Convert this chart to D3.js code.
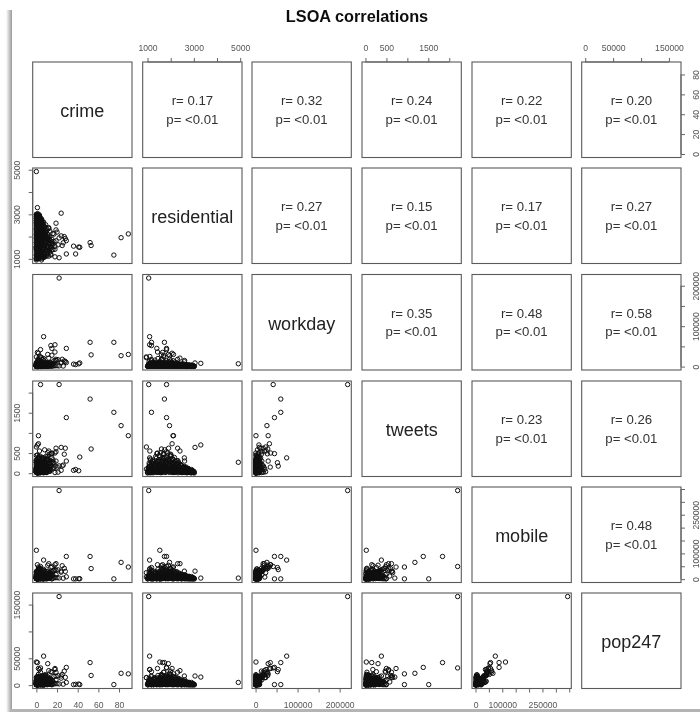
<!DOCTYPE html>
<html>
<head>
<meta charset="utf-8">
<script src="https://cdn.jsdelivr.net/npm/d3@7"></script>
<style>
html,body{margin:0;padding:0;background:#fff;overflow:hidden}
text{font-family:"Liberation Sans",Arial,sans-serif}
</style>
</head>
<body>
<svg id="c" width="700" height="712"></svg>
<script>
const chartTitle = "LSOA correlations";
const names = ["crime","residential","workday","tweets","mobile","pop247"];

// one value per LSOA: dense cluster first, the stand-out points last
const crime = [
2,5,0,7,3,1,6,9,4,0, 8,2,5,11,1,7,3,10,0,6, 4,12,2,9,6,0,13,3,8,1, 11,5,0,14,7,2,10,4,16,1,
6,12,3,9,0,15,5,11,2,8, 13,1,7,4,10,0,6,12,3,9, 2,8,5,0,11,4,7,1,9,3, 6,0,8,3,10,1,5,7,2,4,
0,6,3,8,1,5,2,7,4,0, 3,5,1,6,2,4,0,5,3,1, 2,4,0,3,1,5,2,0,3,1, 0,2,1,3,0,2,1,0,2,1,
0,1,3,5,2,8,4,12,1,6, 0,2,7,3,10,1,5,14,2,9, 0,4,1,8,13,2,6,3,11,0, 1,5,9,2,16,3,7,0,12,4,
1,6,3,14,0,10,2,18,5,8, 0,4,11,2,7,21,1,15,3,9, 2,6,0,13,4,26,8,1,17,3, 0,5,10,2,19,7,1,12,4,28,
3,0,9,15,1,6,22,2,11,5, 0,7,3,13,1,24,4,9,2,17, 1,5,0,11,3,8,16,2,6,20, 0,4,9,1,13,3,6,0,10,2,
1,7,0,3,12,5,2,8,0,4, 0,3,6,1,9,2,5,0,7,1, 2,0,4,1,6,0,3,5,1,2, 0,3,1,0,4,2,0,1,3,0,
22,4,52,75,29,82,89,2,53,7,0,42,36,41,38,29,24,1,0,19,0,14,18,1,18,11,3,2,5,6,15,27,19,12,25,15];
const residential = [
1005,1022,1039,1056,1073,1090,1107,1124,1141,1158, 1175,1192,1209,1226,1243,1260,1277,1294,1311,1328,
1345,1362,1379,1396,1413,1430,1447,1464,1481,1498, 1515,1532,1549,1566,1583,1600,1617,1634,1651,1668,
1685,1702,1719,1736,1753,1770,1787,1804,1821,1838, 1855,1872,1889,1906,1923,1940,1957,1974,1991,2008,
2025,2042,2059,2076,2093,2110,2127,2144,2161,2178, 2195,2212,2229,2246,2263,2280,2297,2314,2331,2348,
2365,2382,2399,2416,2433,2450,2467,2484,2501,2518, 2535,2552,2569,2586,2603,2620,2637,2654,2671,2688,
2705,2722,2739,2756,2773,2790,2807,2824,2841,2858, 2875,2892,2909,2926,2943,2960,2977,2994,3008,3020,
1000,1020,1040,1060,1070,1090,1100,1120,1140,1160, 1010,1050,1080,1110,1130,1170,1190,1210,1230,1250,
1180,1220,1260,1280,1300,1320,1340,1360,1380,1400, 1270,1310,1350,1390,1410,1430,1450,1470,1490,1510,
1420,1440,1460,1480,1500,1520,1540,1560,1580,1600, 1530,1550,1570,1590,1610,1630,1650,1670,1690,1710,
1620,1640,1660,1680,1700,1720,1740,1760,1780,1800, 1730,1750,1770,1790,1810,1830,1850,1870,1890,1910,
1820,1840,1860,1880,1900,1920,1940,1960,1980,2000, 1930,1950,1970,1990,2010,2030,2050,2070,2090,2110,
2020,2040,2060,2080,2100,2120,2140,2160,2180,2200, 2130,2170,2210,2230,2250,2270,2290,2310,2340,2370,
2220,2260,2300,2330,2360,2390,2420,2450,2480,2510, 2400,2440,2470,2500,2530,2560,2590,2620,2650,2680,
2540,2580,2610,2640,2670,2700,2730,2760,2790,2820, 2720,2750,2780,2810,2840,2870,2900,2930,2960,3000,
1050,1820,1730,1170,1820,1950,2120,2100,1600,1090,1530,1520,1570,1530,1220,1220,3050,3300,4920,2600,950,1170,1090,1650,1430,1900,1100,2060,950,2590,1700,2000,2300,2400,1600,1400];
const workday = [
400,2100,5200,900,3300,7000,1500,4400,600,2700, 6200,1200,3800,8200,500,2400,5600,1800,9000,3100,
700,4600,1400,7600,2900,5000,1000,8800,3500,2000, 6600,800,4100,2300,10000,1600,5400,3000,7200,1100,
4800,2500,8400,600,3700,6000,1900,9400,2800,1300, 5200,3400,700,7800,2100,4500,1200,6800,3200,800,
5800,1700,3900,9000,2600,500,4700,1500,7000,3000, 900,5500,2200,3800,700,6400,1400,4200,2700,600,
3600,1800,5000,900,2900,4400,1300,6000,2000,500, 3100,1000,4000,600,2300,3400,800,5000,1600,400,
2600,700,3500,1100,1900,400,2900,900,2200,600, 1600,400,2400,800,1300,500,2000,600,1100,300,
800,2500,6000,1500,12000,3000,9000,1200,4500,18000, 600,3500,1800,7500,2200,14000,900,5000,2800,10500,
1500,4000,800,8500,2300,16000,3200,6500,1000,5500, 2000,11000,3800,700,6200,2600,20000,1400,7800,3300,
1100,4800,2400,9500,600,3600,13000,1900,6800,2900, 3100,700,8200,4200,1600,17000,2700,5800,1200,10000,
900,3900,2100,7000,24000,1300,4600,11500,2500,6000, 1800,5200,800,3400,15000,2200,8800,1500,4100,12500,
1000,6600,2900,600,9200,3700,1700,19000,5000,2300, 3000,1200,7400,4400,2000,10800,800,5600,3500,14500,
1400,6200,2600,900,8000,3200,1800,4700,11200,2100, 700,3800,5400,1600,9800,2400,1100,6800,3000,4300,
1900,800,4900,2700,7200,1300,3600,600,5800,2200, 1000,3100,600,4600,1700,6400,2500,800,3900,1400,
2000,700,3400,1200,5200,900,2800,1500,4200,600, 1100,2400,500,3200,800,1700,4000,600,2100,1000,
219000,42000,60000,60000,45000,27000,30000,1000,29000,74000,1000,9000,6000,7000,5000,10000,9000,8000,7000,15000,24000,52000,54000,35000,36000,30000,25000,33000,22000,12000,28000,14000,18000,21000,18000,45000];
const tweets = [
5,60,130,25,90,170,40,110,15,70, 200,35,140,85,10,230,55,160,100,30, 250,75,180,20,120,280,45,210,95,65, 150,300,35,190,80,260,15,130,330,60,
220,100,370,45,170,290,25,140,400,70, 240,110,350,30,190,310,85,150,430,55, 270,120,35,210,340,70,160,20,290,95, 180,40,240,115,310,60,200,10,145,260,
80,170,30,220,105,50,190,15,130,75, 160,45,110,20,140,65,95,30,120,10, 85,40,105,20,65,90,30,50,75,15, 35,60,10,45,25,55,15,30,40,5,
20,80,150,40,250,100,10,320,60,180, 30,120,210,70,350,15,160,90,280,50, 60,240,25,130,300,85,190,45,370,110, 35,170,410,75,260,20,140,330,95,50,
110,30,290,160,440,65,220,15,350,125, 40,190,510,90,270,25,150,380,70,230, 55,320,120,470,35,200,580,85,260,140, 75,400,20,230,530,105,300,50,170,620,
45,270,130,500,60,350,180,25,420,95, 115,30,310,165,450,70,240,20,360,135, 40,200,85,330,15,260,120,390,55,150, 70,25,180,290,50,230,100,310,35,140,
20,120,250,60,170,30,210,80,130,45, 30,100,190,15,140,60,165,40,110,75, 50,130,20,90,150,35,80,115,25,60, 15,60,105,30,75,10,90,40,55,20,
2200,2200,1840,1510,1380,1180,930,930,600,380,20,400,70,60,90,300,640,700,270,300,650,260,175,150,500,300,550,730,100,380,480,470,620,550,180,485];
const mobile = [
1000,5000,12000,2500,8000,16000,3500,10000,1500,6500, 19000,3000,13000,7500,1200,22000,4500,15000,9000,2000,
24000,6000,17000,1800,11000,27000,3800,20000,8500,5000, 14000,29000,2800,18000,7000,25000,1300,12000,32000,5500,
21000,9500,35000,3800,16000,28000,2200,13000,38000,6500, 23000,10000,33000,2600,18000,30000,7800,14000,40000,4800,
26000,11000,3000,20000,31000,6200,15000,1700,27000,8800, 17000,3400,22000,10500,29000,5200,19000,1000,13500,24000,
7200,16000,2600,21000,9500,4400,18000,1300,12000,6800, 15000,3900,10000,1800,13000,5800,8600,2600,11000,900,
8000,3500,9500,1700,6000,8400,2700,4600,7000,1300, 3200,5600,900,4100,2300,5000,1400,2800,3700,600,
2000,6000,15000,4000,28000,8000,22000,3000,11000,35000, 1500,9000,5000,18000,6500,32000,2500,12000,7000,24000,
4000,10000,2000,20000,6000,30000,8000,16000,3000,14000, 5000,26000,9500,1800,15000,7000,38000,3500,19000,8500,
3000,12000,6000,23000,1500,9000,31000,5000,17000,7500, 8000,2000,21000,11000,4000,36000,7000,15000,3000,25000,
2500,10000,5500,18000,42000,3500,12000,29000,6500,16000, 4500,13000,2000,9000,34000,6000,22000,4000,11000,30000,
2500,17000,7500,1500,24000,9500,4500,40000,13000,6000, 8000,3000,19000,11500,5000,27000,2000,14000,9000,33000,
3500,16000,6500,2500,21000,8500,4500,12000,28000,5500, 2000,10000,14000,4000,25000,6000,3000,18000,8000,11000,
5000,2000,12500,7000,19000,3500,9500,1500,15000,5500, 2500,8000,1500,12000,4500,16000,6500,2000,10000,3500,
5000,1800,9000,3000,13500,2500,7000,4000,11000,1500, 3000,6000,1200,8500,2000,4500,10000,1500,5500,2500,
344000,49000,88000,1000,88000,65000,47000,1000,41000,74000,112000,1500,1000,1500,1000,9000,31000,4000,4000,17000,25000,45000,37000,56000,56000,54000,41000,47000,8000,31000,48000,42000,60000,60000,52000,1000];
const pop247 = [
3100,500,2600,6200,1200,4300,7800,1800,5200,700, 1000,9500,1400,6800,3600,600,11000,2300,7200,4700,
2600,12000,2900,8200,1000,5700,13500,1900,10500,4000, 2700,6800,14500,1500,9400,3300,12500,700,6300,16000,
3400,10000,5000,17500,1800,8300,14200,1100,6200,18500, 2300,11800,4800,16000,1400,8900,15500,3800,7300,19500,
13000,5400,1600,9700,15500,3200,7300,900,13800,4200, 8800,1700,10800,5400,14000,2500,9800,500,6600,12300,
3500,8200,1300,10200,4900,2100,9000,700,6100,3300, 7300,2000,5000,900,6500,2800,4400,1300,5400,500,
4000,1700,4800,800,3000,4200,1400,2200,3500,700, 1600,2700,500,2100,1100,2500,700,1400,1800,300,
900,3000,7500,2000,13000,3800,11000,1500,5200,17000, 800,4200,2300,8800,3000,15500,1300,5800,3500,12000,
2000,4800,1000,9500,3100,14000,3700,7800,1600,7000, 2400,12500,4600,900,7300,3500,18000,1800,9000,4100,
1500,5600,2900,11000,800,4500,15000,2400,8200,3600, 3900,1000,10500,5400,2000,17500,3400,7000,1500,12200,
1200,4800,2700,8500,24000,1700,5900,14000,3200,7800, 2200,6300,1000,4400,16500,2900,10800,2000,5200,14500,
1300,8300,3600,800,11500,4600,2300,20000,6200,2900, 3800,1500,9200,5600,2500,13000,1000,6800,4300,16000,
1800,7800,3100,1200,10000,4200,2200,5800,13500,2700, 1000,4900,6800,1900,12000,3000,1500,8800,3900,5300,
2500,1000,6000,3400,9300,1700,4700,700,7300,2700, 1200,3900,700,5800,2200,7800,3200,1000,4800,1700,
2400,900,4400,1500,6500,1200,3400,2000,5300,700, 1500,2900,600,4100,1000,2200,4900,700,2700,1200,
165000,32000,42000,1000,33000,22000,21000,1000,18000,54000,43000,1000,1000,2000,1500,5000,17000,15000,5000,10000,14000,25000,29000,42000,31000,40000,29000,31000,14000,17000,24000,26000,24000,27000,20000,1000];

const rValues = ["0.17","0.32","0.24","0.22","0.20","0.27","0.15","0.17","0.27","0.35","0.48","0.58","0.23","0.26","0.48"];
const pLabel = "<0.01";

const tickValues = [
  [0,20,40,60,80],
  [1000,2000,3000,4000,5000],
  [0,50000,100000,150000,200000],
  [0,500,1000,1500,2000],
  [0,50000,100000,150000,200000,250000,300000,350000],
  [0,50000,100000,150000]
];
const tickLabels = [
  [0,20,40,60,80],[1000,3000,5000],[0,100000,200000],[0,500,1500],[0,100000,250000],[0,50000,150000]
];

// layout
const panelLeft = [32.7,142.7,252,362,472,581.7], panelW = 99.3;
const panelTop = [62,168,274.5,381,487,593], panelH = 95.5;
const columns = [crime,residential,workday,tweets,mobile,pop247];

const svg = d3.select("#c");
const defs = svg.append("defs");
defs.append("filter").attr("id","soft").attr("filterUnits","userSpaceOnUse")
  .attr("x",0).attr("y",0).attr("width",700).attr("height",712)
  .append("feGaussianBlur").attr("stdDeviation",0.5);
const gl = defs.append("linearGradient").attr("id","sideShade");
gl.append("stop").attr("offset",0).attr("stop-color","#fff");
gl.append("stop").attr("offset",1).attr("stop-color","#9a9a9a");

svg.append("rect").attr("x",6).attr("y",10).attr("width",6).attr("height",702).attr("fill","url(#sideShade)");
svg.append("rect").attr("x",10).attr("y",709).attr("width",690).attr("height",3).attr("fill","#b4b4b4");

const root = svg.append("g").attr("filter","url(#soft)");
root.append("text").attr("x",357).attr("y",22).attr("text-anchor","middle")
  .attr("font-size",16.3).attr("font-weight","bold").attr("fill","#111").text(chartTitle);

const pad = c => { const [a,b] = d3.extent(c), m = (b-a)*0.04; return [a-m,b+m]; };
const xScales = columns.map((c,i)=>d3.scaleLinear().domain(pad(c)).range([panelLeft[i],panelLeft[i]+panelW]));
const yScales = columns.map((c,i)=>d3.scaleLinear().domain(pad(c)).range([panelTop[i]+panelH,panelTop[i]]));

const axisCol = "#555";
function drawAxis(g, scale, vals, labels, orient){
  const ax = (orient==="top"?d3.axisTop:orient==="bottom"?d3.axisBottom:orient==="left"?d3.axisLeft:d3.axisRight)(scale)
    .tickValues(vals).tickSize(4).tickPadding(orient==="bottom"?9:7)
    .tickFormat(v=>labels.includes(v)?String(v):"");
  g.call(ax);
  g.select(".domain").remove();
  g.selectAll("line").attr("stroke",axisCol).attr("stroke-width",0.9);
  const horiz = orient==="top"||orient==="bottom";
  const sign = (orient==="top"||orient==="left")?-1:1;
  g.append("line")
    .attr(horiz?"x1":"y1",scale(vals[0])).attr(horiz?"x2":"y2",scale(vals[vals.length-1]))
    .attr(horiz?"y1":"x1",0).attr(horiz?"y2":"x2",0)
    .attr("stroke",axisCol).attr("stroke-width",0.9);
  const t = g.selectAll("text").attr("font-size",8.6).attr("fill","#555");
  if(!horiz){
    t.attr("text-anchor","middle").attr("dy","0.32em").attr("x",0).attr("y",0)
     .attr("transform",`translate(${sign*15},0) rotate(-90)`);
  }
}

names.forEach((n,i)=>{
  if(i%2===0){
    drawAxis(root.append("g").attr("transform",`translate(0,${panelTop[5]+panelH})`),xScales[i],tickValues[i],tickLabels[i],"bottom");
    drawAxis(root.append("g").attr("transform",`translate(${panelLeft[5]+panelW},0)`),yScales[i],tickValues[i],tickLabels[i],"right");
  } else {
    drawAxis(root.append("g").attr("transform",`translate(0,${panelTop[0]})`),xScales[i],tickValues[i],tickLabels[i],"top");
    drawAxis(root.append("g").attr("transform",`translate(${panelLeft[0]},0)`),yScales[i],tickValues[i],tickLabels[i],"left");
  }
});

let rIdx = 0;
names.forEach((rowName,r)=>{
  names.forEach((colName,c)=>{
    const x0 = panelLeft[c], y0 = panelTop[r];
    const g = root.append("g");
    g.append("rect").attr("x",x0).attr("y",y0).attr("width",panelW).attr("height",panelH)
      .attr("fill","none").attr("stroke","#5a5a5a").attr("stroke-width",1.1);
    const cx = x0+panelW/2, cy = y0+panelH/2;
    if(r===c){
      g.append("text").attr("x",cx).attr("y",cy+1).attr("dy","0.35em").attr("text-anchor","middle")
        .attr("font-size",18).attr("fill","#222").text(rowName);
    } else if(r<c){
      const rv = rValues[rIdx++];
      g.append("text").attr("x",cx).attr("y",cy-9).attr("dy","0.35em").attr("text-anchor","middle")
        .attr("font-size",13.2).attr("fill","#333").text("r= "+rv);
      g.append("text").attr("x",cx).attr("y",cy+9.5).attr("dy","0.35em").attr("text-anchor","middle")
        .attr("font-size",13.2).attr("fill","#333").text("p= "+pLabel);
    } else {
      g.selectAll("circle").data(d3.range(crime.length)).join("circle")
        .attr("cx",k=>xScales[c](columns[c][k])).attr("cy",k=>yScales[r](columns[r][k]))
        .attr("r",2.2).attr("fill","none").attr("stroke","#111").attr("stroke-width",1);
    }
  });
});
</script>
</body>
</html>
